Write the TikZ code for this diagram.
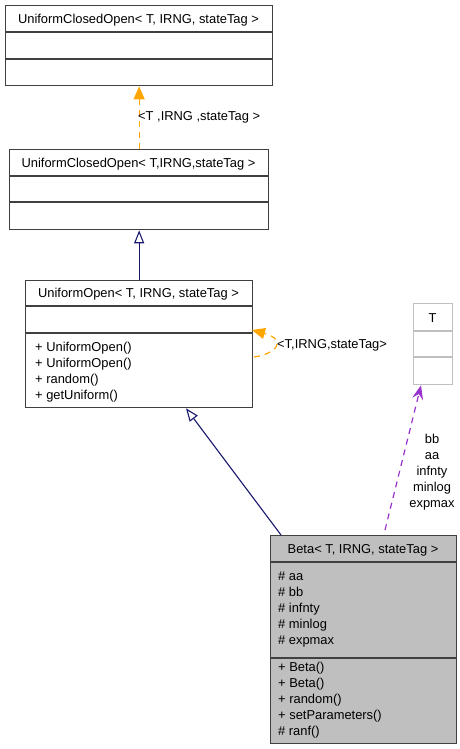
\documentclass[tikz,border=0pt]{standalone}
\usepackage{fontspec}
\setmainfont{Liberation Sans}
\usetikzlibrary{arrows.meta,calc}
\definecolor{edgeorange}{HTML}{FFA500}
\definecolor{edgenavy}{HTML}{191970}
\definecolor{edgepurple}{HTML}{9A32CD}
\definecolor{boxborder}{HTML}{404040}
\definecolor{betafill}{HTML}{BFBFBF}
\definecolor{lightborder}{HTML}{BFBFBF}
\tikzset{
  classbox/.style={draw=boxborder, line width=1.3pt, fill=white, inner sep=0pt, anchor=north west},
  sepline/.style={draw=boxborder, line width=1.3pt},
  txt/.style={inner sep=0pt, anchor=base west},
  ttl/.style={inner sep=0pt, anchor=base},
  usesedge/.style={draw=edgeorange, line width=1.2pt, dash pattern=on 6pt off 5pt, -{Triangle[length=13pt,width=11pt,fill=edgeorange]}},
  inheredge/.style={draw=edgenavy, line width=1.1pt, -{Triangle[open,length=13pt,width=10pt,fill=white]}},
  memberedge/.style={draw=edgepurple, line width=1.2pt, dash pattern=on 6pt off 5pt, -{Stealth[length=14pt,width=11pt,inset=5pt]}},
}
\begin{document}
\begin{tikzpicture}[x=1pt,y=-1pt,font=\fontsize{12.9}{16}\selectfont]
\useasboundingbox (0,0) rectangle (460,749);
% Box 1
\node[classbox, minimum width=267pt, minimum height=80pt] (c1) at (5,5) {};
\draw[sepline] (5,32) -- (272,32);
\draw[sepline] (5,59) -- (272,59);
\node[ttl] (c1t) at (138.5,23.5) {UniformClosedOpen< T, IRNG, stateTag >};
% Box 2
\node[classbox, minimum width=259pt, minimum height=80pt] (c2) at (9,149) {};
\draw[sepline] (9,176) -- (268,176);
\draw[sepline] (9,202) -- (268,202);
\node[ttl] (c2t) at (138.5,167.5) {UniformClosedOpen< T,IRNG,stateTag >};
% Box 3
\node[classbox, minimum width=227pt, minimum height=127pt] (c3) at (25,280) {};
\draw[sepline] (25,306) -- (252,306);
\draw[sepline] (25,333) -- (252,333);
\node[ttl] (c3t) at (138.5,297.5) {UniformOpen< T, IRNG, stateTag >};
\node[txt] (m1) at (35,351) {+ UniformOpen()};
\node[txt] (m2) at (35,367) {+ UniformOpen()};
\node[txt] (m3) at (35,383) {+ random()};
\node[txt] (m4) at (35,399) {+ getUniform()};
% T box
\node[classbox, draw=lightborder, line width=1.3pt, minimum width=39pt, minimum height=81pt] (tb) at (413,303) {};
\draw[sepline, draw=lightborder] (413,331) -- (452,331);
\draw[sepline, draw=lightborder] (413,357) -- (452,357);
\node[ttl] (tbt) at (432.5,322) {T};
% Beta box
\node[classbox, fill=betafill, minimum width=186pt, minimum height=208pt] (beta) at (270,535) {};
\draw[sepline] (270,562) -- (456,562);
\draw[sepline] (270,658) -- (456,658);
\node[ttl] (betat) at (363,553.5) {Beta< T, IRNG, stateTag >};
\node[txt] (a1) at (278,580.5) {\# aa};
\node[txt] (a2) at (278,596.5) {\# bb};
\node[txt] (a3) at (278,612.5) {\# infnty};
\node[txt] (a4) at (278,628.5) {\# minlog};
\node[txt] (a5) at (278,644.5) {\# expmax};
\node[txt] (b1) at (278,671) {+ Beta()};
\node[txt] (b2) at (278,687) {+ Beta()};
\node[txt] (b3) at (278,703) {+ random()};
\node[txt] (b4) at (278,719) {+ setParameters()};
\node[txt] (b5) at (278,735) {\# ranf()};
% Edges
\draw[usesedge] (c2.north) -- (c1.south);
\node[txt] (l1) at (138,121) {<T ,IRNG ,stateTag >};
\draw[inheredge] (c3.north) -- (c2.south);
\coordinate (loopstart) at (254,357);
\coordinate (loopend) at (252,330);
\draw[usesedge] (loopstart) .. controls (276,354) and (288,340) .. (loopend);
\node[txt] (l2) at (277,348) {<T,IRNG,stateTag>};
\coordinate (betaA) at ($(beta.north west)+(11,0)$);
\coordinate (c3B) at ($(c3.south west)+(161,0)$);
\draw[inheredge] (betaA) -- (c3B);
\coordinate (betaB) at ($(beta.north west)+(115,-5)$);
\coordinate (tbB) at ($(tb.south west)+(8,0)$);
\draw[memberedge] (betaB) -- (tbB);
\node[inner sep=0pt, align=center] (l3) at (432,472) {bb\\aa\\infnty\\minlog\\expmax};
\end{tikzpicture}
\end{document}
